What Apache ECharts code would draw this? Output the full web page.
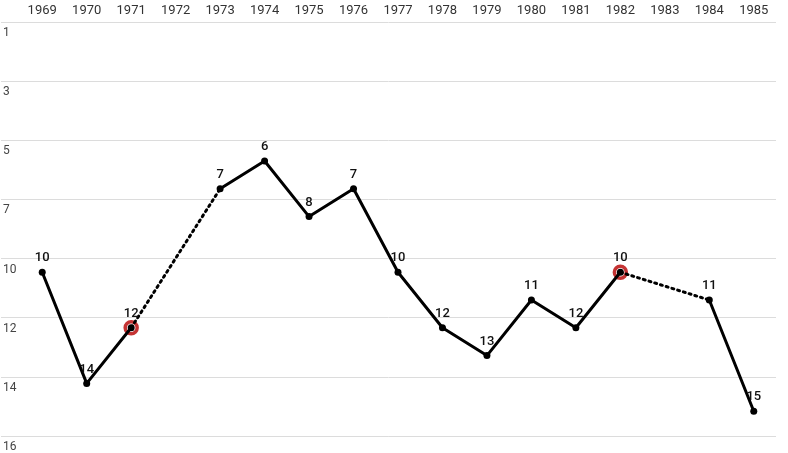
<!DOCTYPE html>
<html>
<head>
<meta charset="utf-8">
<script src="https://cdn.jsdelivr.net/npm/echarts@6/dist/echarts.min.js"></script>
<style>
html,body{margin:0;padding:0;background:#fff;}
#c{width:788px;height:453px;}
</style>
</head>
<body>
<div id="c"></div>
<script>
var years = ['1969','1970','1971','1972','1973','1974','1975','1976','1977','1978','1979','1980','1981','1982','1983','1984','1985'];
var ranks = [10, 14, 12, null, 7, 6, 8, 7, 10, 12, 13, 11, 12, 10, null, 11, 15];
var highlighted = ['1971', '1982'];
var yMin = 1, yMax = 16, ySplits = 7;

// dotted bridges across missing years
var gapSeries = [];
for (var i = 1; i < ranks.length - 1; i++) {
  if (ranks[i] === null && ranks[i - 1] !== null) {
    var j = i + 1;
    while (j < ranks.length && ranks[j] === null) j++;
    if (j < ranks.length) {
      var d = ranks.map(function (v, k) { return (k === i - 1 || k === j) ? v : null; });
      gapSeries.push({
        type: 'line', xAxisIndex: 1, yAxisIndex: 1, data: d, connectNulls: true,
        symbol: 'none', silent: true, z: 3,
        lineStyle: { color: '#000', width: 3, type: [2, 4], cap: 'round' }
      });
    }
  }
}
var ringData = ranks.map(function (v, k) { return highlighted.indexOf(years[k]) >= 0 ? v : null; });

var chart = echarts.init(document.getElementById('c'));
var font = 'Roboto';
chart.setOption({
  animation: false,
  grid: [
    { left: 0, right: 12, top: 22, bottom: 14 },
    { left: 20, right: 12, top: 22, bottom: 14 }
  ],
  xAxis: [
    { gridIndex: 0, type: 'category', data: years, show: false },
    { gridIndex: 1, type: 'category', data: years, position: 'top', boundaryGap: true,
      axisLine: { show: false }, axisTick: { show: false },
      axisLabel: { color: '#333', fontFamily: font, fontSize: 13, margin: 5, interval: 0 } }
  ],
  yAxis: [
    { gridIndex: 0, type: 'value', inverse: true, min: yMin, max: yMax,
      interval: (yMax - yMin) / ySplits,
      axisLine: { show: false }, axisTick: { show: false },
      splitLine: { lineStyle: { color: '#dcdcdc', width: 1 } },
      axisLabel: { inside: true, margin: 2, verticalAlign: 'top', padding: [5, 0, 0, 0],
        color: '#444', fontFamily: font, fontSize: 12,
        formatter: function (v) { return Math.round(v); } } },
    { gridIndex: 1, type: 'value', inverse: true, min: yMin, max: yMax, show: false }
  ],
  series: [
    { type: 'scatter', xAxisIndex: 1, yAxisIndex: 1, data: ringData, symbol: 'circle',
      symbolSize: 12, z: 2, silent: true,
      itemStyle: { color: '#fff', borderColor: '#b50000', borderWidth: 3.5 } },
    { type: 'line', xAxisIndex: 1, yAxisIndex: 1, data: ranks, connectNulls: false,
      symbol: 'circle', symbolSize: 7, showAllSymbol: true, z: 4,
      lineStyle: { color: '#000', width: 3 },
      itemStyle: { color: '#000' },
      label: { show: true, position: 'top', distance: 4, color: '#111',
        fontFamily: font, fontSize: 13, fontWeight: 500 } }
  ].concat(gapSeries)
});
</script>
</body>
</html>
